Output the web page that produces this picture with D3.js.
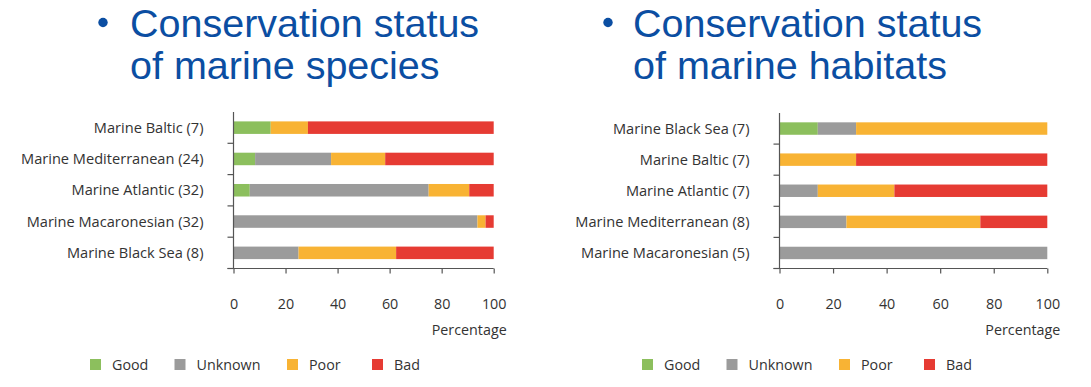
<!DOCTYPE html>
<html>
<head>
<meta charset="utf-8">
<script src="https://cdn.jsdelivr.net/npm/d3@7"></script>
<style>
  html, body { margin: 0; padding: 0; background: #fff; }
  svg { display: block; }
</style>
</head>
<body>
<svg id="chart" width="1091" height="387"></svg>
<script>
// ---- DATA ----
const statuses = ["Good", "Unknown", "Poor", "Bad"];
const statusColors = ["#8cbf5d", "#9b9b9b", "#f8b334", "#e63b33"];
const xTicks = [0, 20, 40, 60, 80, 100];

const speciesTitle = ["Conservation status", "of marine species"];
const speciesRegions = ["Marine Baltic (7)", "Marine Mediterranean (24)", "Marine Atlantic (32)", "Marine Macaronesian (32)", "Marine Black Sea (8)"];
const speciesGood    = [14.3, 8.3, 6.25, 0, 0];
const speciesUnknown = [0, 29.2, 68.75, 93.75, 25];
const speciesPoor    = [14.3, 20.8, 15.6, 3.125, 37.5];
const speciesBad     = [71.4, 41.7, 9.4, 3.125, 37.5];

const habitatTitle = ["Conservation status", "of marine habitats"];
const habitatRegions = ["Marine Black Sea (7)", "Marine Baltic (7)", "Marine Atlantic (7)", "Marine Mediterranean (8)", "Marine Macaronesian (5)"];
const habitatGood    = [14.3, 0, 0, 0, 0];
const habitatUnknown = [14.3, 0, 14.3, 25, 100];
const habitatPoor    = [71.4, 28.6, 28.6, 50, 0];
const habitatBad     = [0, 71.4, 57.1, 25, 0];

const axisLabel = "Percentage";

// ---- DRAW ----
const svg = d3.select("#chart");
const font = "'Open Sans', sans-serif";
const textColor = "#333";
const axisColor = "#555";

function panel(opts) {
  const { title, regions, series, x0, x1, yTop, yBottom, bulletX, titleX, legendX } = opts;
  const g = svg.append("g");

  // Title
  g.append("circle").attr("cx", bulletX).attr("cy", 22.5).attr("r", 4.7).attr("fill", "#0b4ea2");
  title.forEach((t, i) => {
    g.append("text")
      .attr("x", titleX).attr("y", 37 + i * 42)
      .attr("font-family", "'Liberation Sans', Arial, sans-serif")
      .attr("font-size", 39.5)
      .attr("fill", "#0b4ea2")
      .text(t);
  });

  const rows = regions.map((r, i) => {
    const o = { region: r };
    statuses.forEach((s, j) => o[s] = series[j][i]);
    return o;
  });
  const stacked = d3.stack().keys(statuses)(rows);

  const x = d3.scaleLinear().domain([0, 100]).range([x0, x1]);
  const y = d3.scaleBand().domain(regions).range([yTop, yBottom]).paddingInner(0.6).paddingOuter(0.3);
  const color = d3.scaleOrdinal().domain(statuses).range(statusColors);

  // Bars
  g.selectAll("g.layer").data(stacked).join("g")
    .attr("fill", d => color(d.key))
    .selectAll("rect").data(d => d.map((v, i) => ({ v, region: regions[i] })))
    .join("rect")
    .attr("x", d => x(d.v[0]))
    .attr("y", d => y(d.region))
    .attr("width", d => Math.max(0, x(d.v[1]) - x(d.v[0])))
    .attr("height", y.bandwidth());

  // Y axis line
  g.append("line").attr("x1", x0).attr("x2", x0).attr("y1", yTop).attr("y2", yBottom)
    .attr("stroke", axisColor).attr("stroke-width", 1.2);
  // Y ticks at band boundaries (below each band)
  const step = y.step();
  regions.forEach(r => {
    const yy = y(r) + y.bandwidth() / 2 + step / 2;
    g.append("line").attr("x1", x0 - 6).attr("x2", x0).attr("y1", yy).attr("y2", yy)
      .attr("stroke", axisColor).attr("stroke-width", 1.2);
  });
  // Y labels
  g.selectAll("text.ylab").data(regions).join("text")
    .attr("class", "ylab")
    .attr("x", x0 - 30)
    .attr("y", d => y(d) + y.bandwidth() / 2)
    .attr("dy", "0.35em")
    .attr("text-anchor", "end")
    .attr("font-family", font).attr("font-size", 14.6).attr("fill", textColor)
    .text(d => d);

  // X axis
  const xAxis = d3.axisBottom(x).tickValues(xTicks).tickSize(5).tickPadding(25).tickSizeOuter(0);
  const ax = g.append("g").attr("transform", `translate(0,${yBottom})`).call(xAxis);
  ax.select(".domain").remove();
  ax.selectAll(".tick line").attr("stroke", axisColor).attr("stroke-width", 1.2);
  ax.selectAll(".tick text").attr("font-family", font).attr("font-size", 14.3).attr("fill", textColor);
  g.append("line").attr("x1", x0 - 6).attr("x2", x1).attr("y1", yBottom).attr("y2", yBottom)
    .attr("stroke", axisColor).attr("stroke-width", 1.2);

  g.append("text").attr("x", x1 + 13).attr("y", yBottom + 66.5)
    .attr("text-anchor", "end")
    .attr("font-family", font).attr("font-size", 14.3).attr("fill", textColor)
    .text(axisLabel);

  // Legend
  const legendOffsets = [0, 84.5, 197, 282];
  statuses.forEach((s, i) => {
    const lx = legendX + legendOffsets[i];
    g.append("rect").attr("x", lx).attr("y", 359).attr("width", 11).attr("height", 11)
      .attr("fill", color(s));
    g.append("text").attr("x", lx + 22).attr("y", 364.5).attr("dy", "0.35em")
      .attr("font-family", font).attr("font-size", 14.3).attr("fill", textColor)
      .text(s);
  });
}

panel({
  title: speciesTitle, regions: speciesRegions,
  series: [speciesGood, speciesUnknown, speciesPoor, speciesBad],
  x0: 233.5, x1: 493.7, yTop: 112, yBottom: 268.5,
  bulletX: 103, titleX: 130, legendX: 90
});
panel({
  title: habitatTitle, regions: habitatRegions,
  series: [habitatGood, habitatUnknown, habitatPoor, habitatBad],
  x0: 779.5, x1: 1047.3, yTop: 113, yBottom: 268.5,
  bulletX: 608, titleX: 633, legendX: 642
});
</script>
</body>
</html>
